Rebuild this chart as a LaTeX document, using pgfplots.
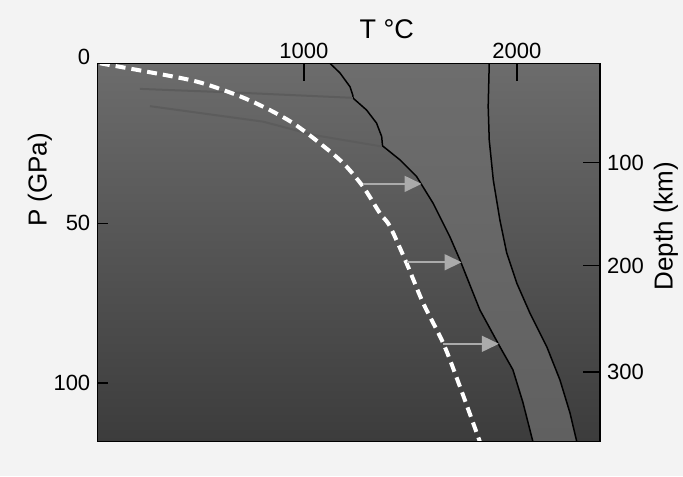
\documentclass[border=0pt]{standalone}
\usepackage{fontspec}
\setmainfont{Liberation Sans}
\usepackage{pgfplots}
\pgfplotsset{compat=1.18}
\usetikzlibrary{arrows.meta}
\definecolor{pagebg}{HTML}{F3F3F3}
\definecolor{bgtop}{HTML}{6C6C6C}
\definecolor{bgbot}{HTML}{3C3C3C}
\definecolor{bandtop}{HTML}{6D6D6D}
\definecolor{bandbot}{HTML}{606060}
\definecolor{faint}{HTML}{5C5C5C}
\definecolor{arrowc}{HTML}{ABABAB}
\begin{document}
\begin{tikzpicture}
\fill[pagebg] (-48.65pt,-17.15pt) rectangle (292.85pt,220.85pt);
\useasboundingbox (-48.65pt,-17.15pt) rectangle (292.85pt,220.85pt);
\pgfplotsset{common/.style={at={(0,0)}, anchor=south west, scale only axis,
  width=251.35pt, height=189.2pt, xmin=30, xmax=2390, ymin=0, ymax=118.3,
  y dir=reverse, tick align=inside,
  tick label style={font=\fontsize{11}{13}\selectfont},
  /pgf/number format/assume math mode=true,
  /pgf/number format/1000 sep={},
  axis line style={draw=black, line width=0.6pt},
  major tick style={draw=black, line width=0.7pt}}}
% main axis: data and top temperature ticks
\begin{axis}[common, axis on top,
  axis background/.style={shade, top color=bgtop, bottom color=bgbot},
  xtick={1000,2000}, xtick pos=upper, xticklabel pos=upper,
  major tick length=9pt, ytick=\empty,
  xticklabel style={yshift=-1pt}]
% band between solidus and liquidus
\addplot[shade, top color=bandtop, bottom color=bandbot, draw=none] coordinates {
 (1122,0) (1169,3.0) (1216,7.3) (1229,9.9) (1231,10.9) (1294,14.6)
 (1341,18.7) (1365,22.9) (1369,25.8) (1451,30.2) (1529,35.4) (1606,43.7)
 (1685,54.2) (1732,61.4) (1826,77.1) (1920,88.6) (1981,95.8) (2028,106)
 (2075,118.3)
 (2281,118.3) (2249,109.3) (2202,99) (2140,88.6) (2061,78.1) (1999,68.7)
 (1952,59.3) (1920,49) (1889,36.5) (1870,24) (1865,13.5) (1870,0)} -- cycle;
% solidus
\addplot[black, line width=0.75pt] coordinates {
 (1122,0) (1169,3.0) (1216,7.3) (1229,9.9) (1231,10.9) (1294,14.6)
 (1341,18.7) (1365,22.9) (1369,25.8) (1451,30.2) (1529,35.4) (1606,43.7)
 (1685,54.2) (1732,61.4) (1826,77.1) (1920,88.6) (1981,95.8) (2028,106)
 (2075,118.3)};
% liquidus
\addplot[black, line width=0.75pt] coordinates {
 (1870,0) (1865,13.5) (1870,24) (1889,36.5) (1920,49) (1952,59.3)
 (1999,68.7) (2061,78.1) (2140,88.6) (2202,99) (2249,109.3) (2281,118.3)};
% faint lines
\addplot[faint, line width=1pt] coordinates {(230,8.0) (732,9.3) (1230,10.8)};
\addplot[faint, line width=1pt] coordinates {(277,13.4) (809,18.25) (1044,22.4) (1365,26.0)};
% dashed curve
\addplot[white, line width=2pt, dash pattern=on 5pt off 3pt, smooth] coordinates {
 (42,0) (261,2.6) (496,5.7) (684,9.9) (825,14.1) (950,18.75) (1075,25)
 (1185,31.25) (1278,38.6) (1357,46.9) (1404,51) (1482,62.5) (1560,75)
 (1654,87.5) (1732,101) (1826,118.3)};
% arrows
\addplot[arrowc, line width=0.8pt, -{Triangle[length=8.5pt,width=8pt]}] coordinates {(1277,37.7) (1552,37.7)};
\addplot[arrowc, line width=0.8pt, -{Triangle[length=8.5pt,width=8pt]}] coordinates {(1482,62.2) (1740,62.2)};
\addplot[arrowc, line width=0.8pt, -{Triangle[length=8.5pt,width=8pt]}] coordinates {(1654,87.7) (1915,87.7)};
% tick marks
\draw[black, line width=0.6pt] (axis cs:1000,0) -- ++(0pt,-9pt);
\draw[black, line width=0.6pt] (axis cs:2000,0) -- ++(0pt,-9pt);
\draw[black, line width=0.6pt] (axis cs:30,50) -- ++(5.5pt,0pt);
\draw[black, line width=0.6pt] (axis cs:30,100) -- ++(5.5pt,0pt);
\draw[black, line width=0.6pt] (axis cs:2390,31.06) -- ++(-8.5pt,0pt);
\draw[black, line width=0.6pt] (axis cs:2390,63.25) -- ++(-8.5pt,0pt);
\draw[black, line width=0.6pt] (axis cs:2390,96.56) -- ++(-8.5pt,0pt);
\end{axis}
% left pressure ticks
\begin{axis}[common, xtick=\empty, ytick={50,100}, ytick pos=left,
  yticklabel pos=left, major tick length=5.5pt]
\addplot[draw=none] coordinates {(30,0) (2390,118.3)};
\end{axis}
% right depth ticks
\begin{axis}[common, xtick=\empty, ytick={31.06,63.25,96.56},
  yticklabels={100,200,300}, ytick pos=right, yticklabel pos=right,
  major tick length=8.5pt]
\addplot[draw=none] coordinates {(30,0) (2390,118.3)};
\end{axis}
\node[font=\fontsize{13.5}{15}\selectfont] at (144.7pt,206.25pt) {T °C};
\node[font=\fontsize{11}{13}\selectfont] at (-6.65pt,192.6pt) {0};
\node[font=\fontsize{13}{15}\selectfont, rotate=90] at (-28.65pt,130.85pt) {P (GPa)};
\node[font=\fontsize{13}{15}\selectfont, rotate=90] at (284.35pt,107.85pt) {Depth (km)};
\end{tikzpicture}
\end{document}
